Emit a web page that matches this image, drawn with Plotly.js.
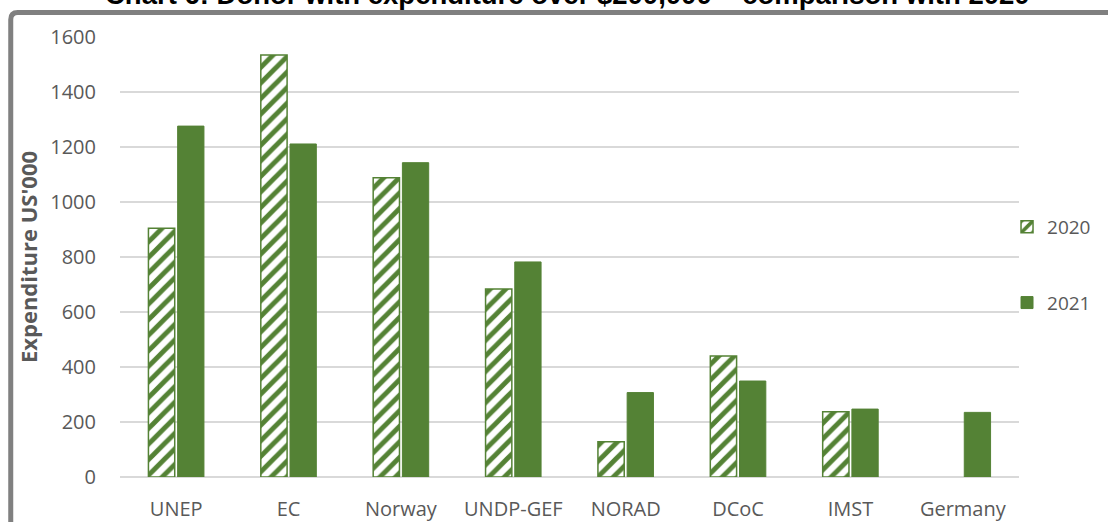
<!DOCTYPE html>
<html>
<head>
<meta charset="utf-8">
<script src="https://cdn.plot.ly/plotly-3.0.1.min.js"></script>
<style>
html,body{margin:0;padding:0;background:#fff;}
#chart{width:1108px;height:522px;}
</style>
</head>
<body>
<div id="chart"></div>
<script>
const categories = ["UNEP", "EC", "Norway", "UNDP-GEF", "NORAD", "DCoC", "IMST", "Germany"];
const values2020 = [905, 1535, 1088, 684, 128, 440, 237, null];
const values2021 = [1276, 1211, 1143, 782, 307, 349, 247, 235];
const seriesNames = ["2020", "2021"];
const yTicks = [0, 200, 400, 600, 800, 1000, 1200, 1400, 1600];

const green = "#548235";
const txt = "#595959";

const W = 1108, H = 522;
const L = 120, R = 87, T = 37, B = 45;
const pw = W - L - R, ph = H - T - B;
function px(x){ return (x - L) / pw; }
function py(y){ return (H - B - y) / ph; }

const traces = [
  {
    type: "bar", name: seriesNames[0], x: categories, y: values2020,
    legendgroup: "a",
    marker: {
      color: "#ffffff",
      line: {color: green, width: 1.5},
      pattern: {shape: "/", fgcolor: green, bgcolor: "#ffffff", size: 11, solidity: 0.45}
    },
    hoverinfo: "x+y"
  },
  {
    type: "bar", name: seriesNames[1], x: categories, y: values2021,
    legendgroup: "b",
    marker: {color: green, line: {color: green, width: 1}},
    hoverinfo: "x+y"
  }
];

const x0 = px(10.5), yTop = py(12.5), x1 = px(1120), yBot = py(540);
const r = 7 / pw, ry = 7 / ph;

const layout = {
  width: W, height: H,
  margin: {l: L, r: R, t: T, b: B, pad: 0},
  paper_bgcolor: "#ffffff",
  plot_bgcolor: "#ffffff",
  font: {family: "'Open Sans', sans-serif", color: txt, size: 19},
  title: {
    text: "<b>Chart 6: Donor with expenditure over $200,000 \u2013 comparison with 2020</b>",
    font: {family: "'Liberation Sans', Arial, sans-serif", size: 27.5, color: "#000000"},
    x: 0.512, xanchor: "center",
    yref: "container", y: 1 - 4/H, yanchor: "bottom"
  },
  barmode: "group",
  bargap: 0.48,
  bargroupgap: 0.1,
  xaxis: {
    type: "category",
    showgrid: false,
    showline: false,
    zeroline: false,
    ticks: "",
    ticklabelstandoff: 18,
    tickfont: {size: 20, color: txt},
    automargin: false,
    fixedrange: true
  },
  yaxis: {
    range: [0, 1600],
    tickvals: yTicks,
    ticktext: yTicks.map(String),
    showgrid: true,
    gridcolor: "#d9d9d9",
    gridwidth: 1.5,
    zeroline: true,
    zerolinecolor: "#d9d9d9",
    zerolinewidth: 1.5,
    showline: false,
    ticks: "",
    ticklabelstandoff: 23,
    tickfont: {size: 20, color: txt},
    title: {text: "<b>Expenditure US'000</b>", font: {size: 22, color: txt}, standoff: 6},
    automargin: false,
    fixedrange: true
  },
  legend: {
    x: px(1009), xanchor: "left",
    y: py(208), yanchor: "top",
    font: {size: 19, color: txt},
    traceorder: "grouped",
    tracegroupgap: 48,
    bgcolor: "rgba(0,0,0,0)",
    itemwidth: 30
  },
  shapes: [
    {
      type: "path", xref: "paper", yref: "paper", layer: "above",
      path: "M " + x0 + "," + yBot + " L " + x0 + "," + (yTop - ry) +
            " Q " + x0 + "," + yTop + " " + (x0 + r) + "," + yTop +
            " L " + x1 + "," + yTop,
      line: {color: "#808080", width: 5}
    }
  ],
  showlegend: true
};

Plotly.newPlot("chart", traces, layout, {displayModeBar: false, staticPlot: true});
</script>
</body>
</html>
